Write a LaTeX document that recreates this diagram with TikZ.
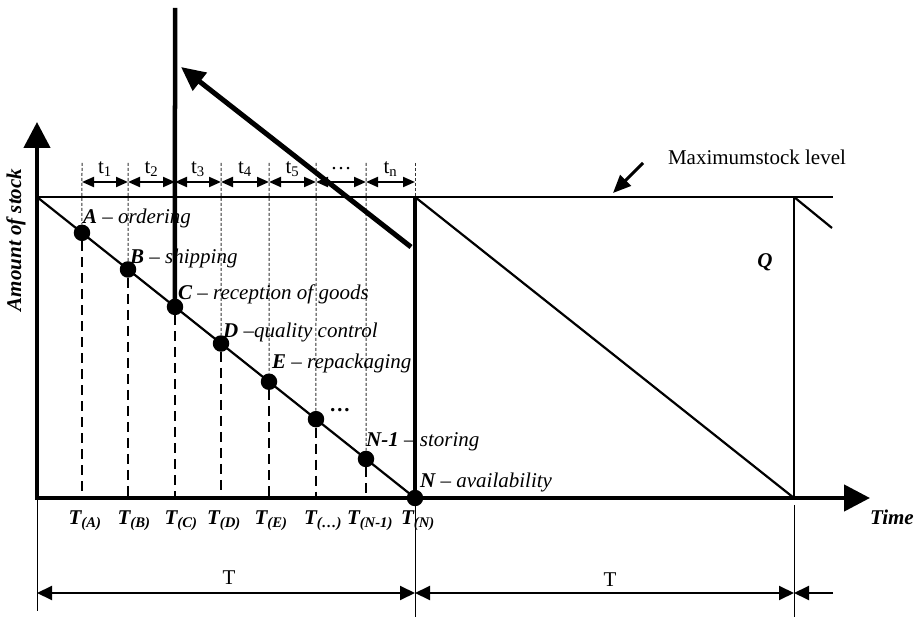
\documentclass[tikz,border=0pt]{standalone}
\usepackage{fontspec}
\setmainfont{Liberation Serif}
\usetikzlibrary{arrows.meta, positioning, calc}

\begin{document}
\begin{tikzpicture}[x=1pt, y=-1pt,
      font=\fontsize{21}{25}\selectfont,
      axis/.style={line width=4.5pt, -{Triangle[length=26pt, width=26pt]}},
      level/.style={line width=1.6pt},
      saw/.style={line width=2.2pt},
      event/.style={circle, fill=black, minimum size=16.5pt, inner sep=0pt},
      evlbl/.style={anchor=west, inner sep=0pt,
                    font=\fontsize{21}{25}\selectfont\itshape},
      drop/.style={line width=2.5pt, dash pattern=on 10pt off 6pt},
      guide/.style={line width=1pt, black!80, dash pattern=on 3pt off 2pt},
      span/.style={line width=2pt,
                   {Triangle[length=12pt, width=10pt]}-{Triangle[length=12pt, width=10pt]}},
      dim/.style={line width=2pt,
                  {Triangle[length=15pt, width=14pt]}-{Triangle[length=15pt, width=14pt]}},
      tlbl/.style={inner sep=0pt, font=\fontsize{21}{25}\selectfont\bfseries\itshape},
      bigarr/.style={line width=5pt, -{Triangle[length=24pt, width=22pt]}}
    ]
    \useasboundingbox (0,0) rectangle (919,617);

    % Frame points
    \coordinate (O) at (37,498);
    \coordinate (top0) at (37,197);
    \coordinate (topN) at (415,197);
    \coordinate (top2) at (794,197);
    \coordinate (end2) at (794,498);
    \coordinate (levelend) at (833,197);
    \coordinate (tail) at (832,228);

    % Axes
    \draw[axis] (37,500) coordinate (ybot) -- (37,122) coordinate (ytip);
    \draw[axis] (35,498) coordinate (xbeg) -- (870,498) coordinate (xtip);
    \node[tlbl, rotate=90] (ylbl) at (16,240) {Amount of stock};
    \node[tlbl] (xlbl) at (892,517) {Time};

    % Maximum stock level
    \draw[level] (top0) -- (levelend);
    \node[inner sep=0pt] (maxlbl) at (757,157) {Maximumstock level};
    \coordinate (ma) at (643,163);
    \coordinate (mb) at (613,193);
    \draw[line width=3pt, -{Triangle[length=18pt, width=15pt]}] (ma) -- (mb);

    % First cycle with events
    \node[event] (N) at (415,498) {};
    \draw[saw] (top0) -- (N.center);
    \draw[line width=4.5pt] (topN) -- (N.center);
    \foreach \n/\x in {A/82, B/128, C/175, D/221, E/269, F/316, G/366} {
      \node[event] (\n) at ($(top0)!{(\x-37)/378}!(N)$) {};
      \draw[drop] (\n) -- (\n |- O);
      \draw[guide] (\x,163) coordinate (g\n) -- (\n);
    }
    \draw[guide] (415,163) coordinate (gN) -- (topN);

    % Event labels
    \node[evlbl] (lA) at (83,218) {\textbf{A} -- ordering};
    \node[evlbl] (lB) at (130,258) {\textbf{B} -- shipping};
    \node[evlbl] (lC) at (178,294) {\textbf{C} -- reception of goods};
    \node[evlbl] (lD) at (223,332) {\textbf{D} --quality control};
    \node[evlbl] (lE) at (272,363) {\textbf{E} -- repackaging};
    \node[evlbl] (lF) at (330,410) {\textbf{\ldots}};
    \node[evlbl] (lG) at (366,442) {\textbf{N-1} -- storing};
    \node[evlbl] (lN) at (420,482) {\textbf{N} -- availability};

    % Time stamps on the axis
    \foreach \n/\x/\s in {A/85/(A), B/134/(B), C/181/(C), D/224/(D), E/271/(E),
                          F/323/(\ldots), G/370/(N-1), N/418/(N)} {
      \node[tlbl] (T\n) at (\x,521) {T\textsubscript{\s}};
    }

    % Intervals t1 ... tn
    \foreach \x [count=\i from 0] in {82,128,175,221,269,316,366,415}
      \coordinate (s\i) at (\x,182);
    \foreach \i/\j/\lbl in {0/1/t\textsubscript{1}, 1/2/t\textsubscript{2},
                            2/3/t\textsubscript{3}, 3/4/t\textsubscript{4},
                            4/5/t\textsubscript{5}, 5/6/\ldots,
                            6/7/t\textsubscript{n}} {
      \draw[span] (s\i) -- (s\j)
        node[midway, yshift=13pt, inner sep=0pt] (lt\i) {\lbl};
    }

    % Pointer from the reception event
    \coordinate (ctop) at (175,8);
    \draw[line width=4.5pt] (ctop) -- (C.center);
    \coordinate (bstart) at (411,247);
    \coordinate (bend) at (181,67);
    \draw[bigarr] (bstart) -- (bend);

    % Second cycle
    \draw[saw] (topN) -- (end2);
    \draw[line width=2.6pt] (top2) -- (end2);
    \draw[saw] (top2) -- (tail);
    \node[tlbl] (q) at (765,262) {Q};

    % Period dimensions
    \coordinate (d0) at (37,593);
    \coordinate (d1) at (415,593);
    \coordinate (d2) at (794,593);
    \coordinate (d3) at (833,593);
    \draw[line width=1pt] (37,500) coordinate (v0a) -- (37,611) coordinate (v0b);
    \draw[line width=1pt] (N) -- (415,617) coordinate (v1b);
    \draw[line width=1pt] (794,505) coordinate (v2a) -- (794,617) coordinate (v2b);
    \draw[dim] (d0) -- (d1);
    \draw[dim] (d1) -- (d2);
    \draw[line width=2pt, -{Triangle[length=15pt, width=14pt]}] (d3) -- (d2);
    \node[inner sep=0pt] (Tl) at (229,578) {T};
    \node[inner sep=0pt] (Tr) at (610,580) {T};
  \end{tikzpicture}
\end{document}
